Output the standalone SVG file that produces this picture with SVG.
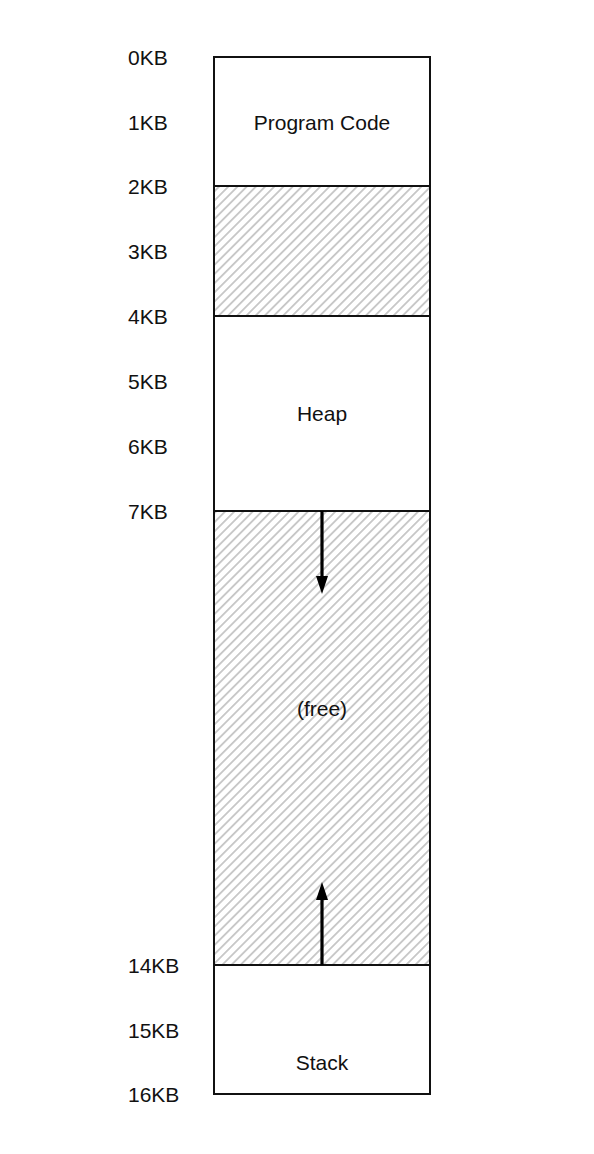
<svg xmlns="http://www.w3.org/2000/svg" width="594" height="1154" viewBox="0 0 594 1154">
<style>
text{font-family:"Liberation Sans",Arial,sans-serif;font-size:21px;fill:#111}
.lbl{text-anchor:start}
.mid{text-anchor:middle}
.box{fill:#fff;stroke:#111;stroke-width:2}
.hatch{fill:url(#hatch);stroke:#111;stroke-width:2}
.arr{stroke:#000;stroke-width:3.2;fill:none}
</style>
<defs>
<pattern id="hatch" patternUnits="userSpaceOnUse" width="6.5" height="6.5" patternTransform="rotate(45)">
<rect width="6.5" height="6.5" fill="#fff"/>
<line x1="0" y1="0" x2="0" y2="6.5" stroke="#c6c6c6" stroke-width="3.6"/>
</pattern>
</defs>
<rect width="594" height="1154" fill="#fff"/>
<g id="labels">
<text class="lbl" x="128" y="65">0KB</text>
<text class="lbl" x="128" y="130">1KB</text>
<text class="lbl" x="128" y="194">2KB</text>
<text class="lbl" x="128" y="259">3KB</text>
<text class="lbl" x="128" y="324">4KB</text>
<text class="lbl" x="128" y="389">5KB</text>
<text class="lbl" x="128" y="454">6KB</text>
<text class="lbl" x="128" y="519">7KB</text>
<text class="lbl" x="128" y="973">14KB</text>
<text class="lbl" x="128" y="1038">15KB</text>
<text class="lbl" x="128" y="1102">16KB</text>
</g>
<g id="code"><rect class="box" x="214" y="57" width="216" height="129"/><text class="mid" x="322" y="130">Program Code</text></g>
<g id="gap"><rect class="hatch" x="214" y="186" width="216" height="130"/></g>
<g id="heap"><rect class="box" x="214" y="316" width="216" height="195"/><text class="mid" x="322" y="421">Heap</text></g>
<g id="free"><rect class="hatch" x="214" y="511" width="216" height="454"/><text class="mid" x="322" y="716">(free)</text></g>
<g id="stack"><rect class="box" x="214" y="965" width="216" height="129"/><text class="mid" x="322" y="1070">Stack</text></g>
<g id="connectors">
<line class="arr" x1="322" y1="511" x2="322" y2="578"/>
<polygon points="316,576 328,576 322,594" fill="#000"/>
<line class="arr" x1="322" y1="965" x2="322" y2="898"/>
<polygon points="316,900 328,900 322,882" fill="#000"/>
</g>
</svg>
